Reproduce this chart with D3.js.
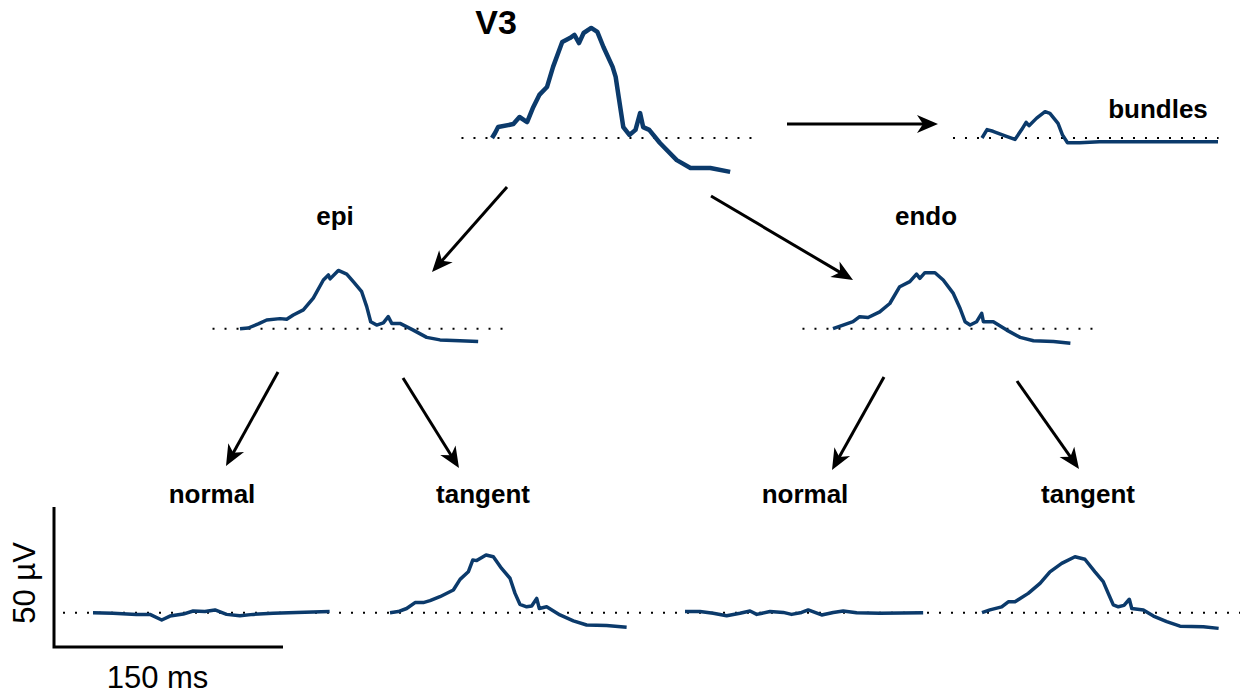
<!DOCTYPE html>
<meta charset="utf-8">
<script src="https://d3js.org/d3.v7.min.js"></script>
<style>
  body { margin: 0; background: #fff; }
  text { font-family: "Liberation Sans", Arial, sans-serif; }
</style>
<div id="my_dataviz"></div>
<script>

// waveforms: [time ms, amplitude µV]
var v3 = [[0,0],[2,1.8],[4,3.9],[14,5],[18,7.5],[23,5.7],[27,11],[31,15.4],[36,18.2],[40,25.4],
  [46,34.3],[51,35.7],[54,36.8],[57,33.9],[60,37.5],[65,39.3],[69,37.9],[73,32.5],[79,25.4],
  [81,21.8],[83,14.6],[86,3.9],[90,1.1],[94,2.9],[97,8.9],[99,3.9],[103,2.9],[110,-1.8],
  [121,-7.9],[130,-10.7],[143,-10.7],[156,-12.1]];
var bundles = [[0,0],[3.3,3],[7.2,2.4],[16,0.6],[21.6,-0.5],[26,3],[28.9,5.6],[30.8,4.4],
  [35.8,7.1],[41.3,9.4],[44.5,8.8],[49.8,5.2],[52.7,1.1],[56,-1.7],[64,-1.7],[77,-1.3],
  [103,-1.3],[125,-1.3],[154.6,-1.3]];
var epi = [[0,0],[5.4,0.25],[12,1.7],[17.5,3.1],[26.2,3.6],[30.6,3.4],[34.9,4.9],[41.5,6.7],
  [48,10.9],[54.6,17.4],[57.9,19.2],[59,17.8],[64.4,20.8],[69.9,19.5],[74.2,16.8],[79.7,13.2],
  [83,7.9],[85.6,2.5],[89.5,1.3],[93.9,2.1],[97.1,4.3],[99.4,1.9],[104.8,1.9],[113.5,-0.5],
  [122.3,-3.1],[131,-4],[144,-4.3],[156,-4.6]];
var endo = [[0,0],[6.6,1.3],[13.1,2.5],[17.5,4.3],[23,4],[30.6,6],[37.2,9],[43.7,15],[50.3,16.8],
  [54.7,19.5],[56.9,18],[60.2,20],[66.8,20],[72.2,17.4],[78.8,12.6],[83.2,7.3],[86.5,2.5],
  [89.8,1.3],[94.1,2.5],[97.4,5.5],[98.5,2.5],[105,2.5],[113.8,-0.5],[122.6,-3.1],[131.3,-4.3],
  [144.4,-4.6],[155.5,-5.2]];
var epiNormal = [[0,0],[13.1,-0.2],[28.4,-0.6],[37.3,-0.6],[45,-2.6],[50.4,-1.2],[59.1,-0.5],
  [65.6,0.6],[73.3,0.4],[79.9,1],[87.5,-0.6],[96.2,-1.1],[104.9,-0.6],[118,-0.2],[133.3,0.1],[155,0.4]];
var epiTangent = [[0,0],[5.4,0.4],[10.9,1.5],[16.4,3.6],[21.8,3.6],[26.2,4.3],[32.7,5.7],[41.5,8.1],
  [45.9,11.9],[51.3,14.6],[54.2,18.8],[56.8,18.6],[62.9,20.6],[67.7,20],[73.1,15.8],[78.6,12.3],
  [81.9,6.9],[85.1,3],[89.5,2.1],[92.8,2.4],[96.1,5.1],[97.8,1.5],[102.6,2.1],[111.3,-0.8],
  [120.1,-2.9],[128.8,-4.4],[141.9,-4.6],[155,-5.2]];
var endoNormal = [[0,0.4],[9.8,0.4],[18.5,-0.2],[27.3,-1.1],[36,-0.2],[42.6,0.6],[47,-0.6],[55.7,0.4],
  [64.4,0.1],[69.8,-0.6],[76.4,0.1],[80.7,1],[89.5,-0.8],[97.1,0.1],[103.6,0.6],[112.4,0],[127.7,-0.2],[156,0]];
var endoTangent = [[0,0],[5.2,1],[12.9,2.1],[17.2,3.9],[21.6,3.9],[30.3,6.9],[38,10.5],[44.5,14.6],
  [52.2,17.6],[60.9,20],[67.4,19.1],[74,14.6],[79.4,11.1],[82.7,6.9],[86,2.8],[89.3,2.1],[93,2.6],
  [96.5,4.8],[98.1,1.5],[105.7,1],[112.3,-1.2],[121,-3.2],[129.7,-4.8],[145,-5],[155,-5.6]];

var labels = ["V3", "bundles", "epi", "endo", "normal", "tangent", "normal", "tangent"];

// layout of the small panels (origin of time 0 / baseline)
var panels = [
  {data: v3,          x0: 492, y0: 138,   label: labels[0], lx: 496,  ly: 34,  big: true, base: [-20, 172]},
  {data: bundles,     x0: 982, y0: 138,   label: labels[1], lx: 1158, ly: 118, base: [-19, 155]},
  {data: epi,         x0: 240, y0: 328.7, label: labels[2], lx: 335,  ly: 225, base: [-18, 172]},
  {data: endo,        x0: 833, y0: 328.7, label: labels[3], lx: 926,  ly: 225, base: [-20, 172]},
  {data: epiNormal,   x0: 93,  y0: 612.7, label: labels[4], lx: 212,  ly: 503},
  {data: epiTangent,  x0: 390, y0: 612.7, label: labels[5], lx: 483,  ly: 503},
  {data: endoNormal,  x0: 685, y0: 612.7, label: labels[6], lx: 805,  ly: 503},
  {data: endoTangent, x0: 982, y0: 612.7, label: labels[7], lx: 1088, ly: 503}
];

var arrows = [
  [787, 124, 938, 124],
  [507, 187, 432, 272],
  [711, 196, 853, 280],
  [278, 372, 226, 466],
  [403, 378, 459, 468],
  [884, 377, 832, 470],
  [1017, 381, 1079, 469]
];

var width = 1242, height = 694;
var lineColor = "#0b3a6b";

var svg = d3.select("#my_dataviz")
  .append("svg")
    .attr("width", width)
    .attr("height", height);

// shared scales: 150 ms = 229 px, 50 µV = 140 px
var x = d3.scaleLinear().domain([0, 150]).range([0, 229]);
var y = d3.scaleLinear().domain([0, 50]).range([0, -140]);

var line = d3.line()
  .x(function(d) { return x(d[0]); })
  .y(function(d) { return y(d[1]); })
  .curve(d3.curveLinear);

// dotted baseline at the bottom row, one long line
svg.append("line")
  .attr("x1", 63).attr("x2", 1240)
  .attr("y1", 612.7).attr("y2", 612.7)
  .attr("stroke", "#000")
  .attr("stroke-width", 2)
  .attr("stroke-dasharray", "2,10");

panels.forEach(function(p) {
  var g = svg.append("g")
    .attr("transform", "translate(" + p.x0 + "," + p.y0 + ")");

  if (p.base) {
    g.append("line")
      .attr("x1", x(p.base[0])).attr("x2", x(p.base[1]))
      .attr("y1", 0).attr("y2", 0)
      .attr("stroke", "#000")
      .attr("stroke-width", 2)
      .attr("stroke-dasharray", "2,10");
  }

  g.append("path")
    .datum(p.data)
    .attr("d", line)
    .attr("fill", "none")
    .attr("stroke", lineColor)
    .attr("stroke-width", p.big ? 4.5 : 3.5)
    .attr("stroke-linejoin", "round");

  svg.append("text")
    .attr("x", p.lx)
    .attr("y", p.ly)
    .attr("text-anchor", "middle")
    .style("font-weight", "bold")
    .style("font-size", p.big ? "34px" : "26px")
    .text(p.label);
});

// arrows
svg.append("defs").append("marker")
    .attr("id", "head")
    .attr("markerUnits", "userSpaceOnUse")
    .attr("viewBox", "-22 -10 24 20")
    .attr("refX", 0).attr("refY", 0)
    .attr("markerWidth", 24).attr("markerHeight", 20)
    .attr("orient", "auto")
  .append("path")
    .attr("d", "M0,0 L-21,-9 L-15,0 L-21,9 Z")
    .attr("fill", "#000");

arrows.forEach(function(a) {
  var dx = a[2] - a[0], dy = a[3] - a[1];
  var len = Math.sqrt(dx * dx + dy * dy);
  var ex = a[2] - dx / len * 10, ey = a[3] - dy / len * 10;
  svg.append("line")
    .attr("x1", a[0]).attr("y1", a[1])
    .attr("x2", ex).attr("y2", ey)
    .attr("stroke", "#000")
    .attr("stroke-width", 3);
  svg.append("path")
    .attr("d", "M" + ex + "," + ey + "L" + a[2] + "," + a[3])
    .attr("stroke", "none")
    .attr("fill", "none")
    .attr("marker-end", "url(#head)");
});

// scale bar
var sb = svg.append("g").attr("transform", "translate(54,647)");
sb.append("path")
  .attr("d", "M0," + y(50) + "L0,0L" + x(150) + ",0")
  .attr("fill", "none")
  .attr("stroke", "#000")
  .attr("stroke-width", 3);
sb.append("text")
  .attr("transform", "translate(-19," + (y(50) / 2 + 6) + ")rotate(-90)")
  .attr("text-anchor", "middle")
  .style("font-size", "31px")
  .text("50 µV");
sb.append("text")
  .attr("x", x(150) / 2 - 11)
  .attr("y", 41)
  .attr("text-anchor", "middle")
  .style("font-size", "31px")
  .text("150 ms");

</script>
